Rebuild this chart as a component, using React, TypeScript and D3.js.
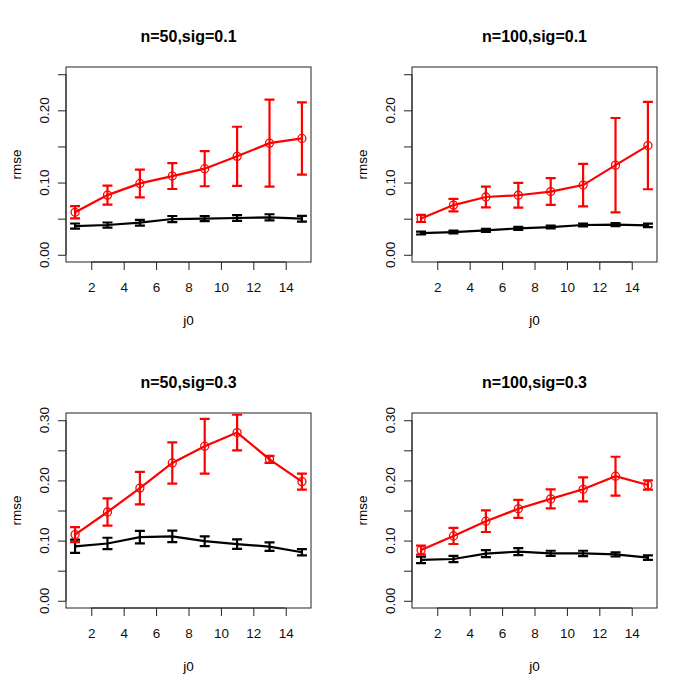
import React, { useEffect, useRef } from "react";
import * as d3 from "d3";

// x positions (j0)
const j0 = [1, 3, 5, 7, 9, 11, 13, 15];

const titles = ["n=50,sig=0.1", "n=100,sig=0.1", "n=50,sig=0.3", "n=100,sig=0.3"];
const yMax = [0.25, 0.25, 0.3, 0.3];

// red series (with circles) means and error half-widths
const redMean = [
   [0.0588, 0.0826, 0.0988, 0.109, 0.1192, 0.1363, 0.1546, 0.1611],
   [0.0503, 0.0688, 0.08, 0.0824, 0.0875, 0.0965, 0.1241, 0.1512],
   [0.11, 0.1475, 0.1872, 0.229, 0.2568, 0.2795, 0.235, 0.198],
   [0.0842, 0.1077, 0.1322, 0.1528, 0.1693, 0.1852, 0.207, 0.1924],
];
const redErr = [
   [0.0085, 0.0132, 0.0192, 0.0179, 0.0243, 0.041, 0.0602, 0.05],
   [0.0049, 0.0086, 0.0144, 0.0171, 0.0185, 0.0294, 0.0653, 0.0605],
   [0.0125, 0.0225, 0.027, 0.0343, 0.0455, 0.0296, 0.0059, 0.0134],
   [0.0073, 0.0134, 0.0179, 0.015, 0.0159, 0.02, 0.0323, 0.0078],
];

// black series means and error half-widths
const blackMean = [
   [0.0398, 0.0412, 0.0444, 0.0495, 0.05, 0.0509, 0.0519, 0.05],
   [0.0301, 0.0315, 0.0338, 0.0366, 0.0384, 0.0412, 0.0417, 0.0407],
   [0.0905, 0.0952, 0.1057, 0.107, 0.099, 0.0942, 0.09, 0.0806],
   [0.068, 0.0694, 0.0783, 0.0817, 0.0789, 0.0786, 0.077, 0.0716],
];
const blackErr = [
   [0.0035, 0.0035, 0.004, 0.0042, 0.0035, 0.004, 0.0042, 0.004],
   [0.002, 0.002, 0.002, 0.002, 0.002, 0.002, 0.002, 0.0025],
   [0.011, 0.0095, 0.0103, 0.0095, 0.0081, 0.0078, 0.007, 0.0053],
   [0.0055, 0.0053, 0.0059, 0.0059, 0.0042, 0.0045, 0.0034, 0.0037],
];

const xTicks = [2, 4, 6, 8, 10, 12, 14];

const FONT = "'Liberation Sans', Arial, Helvetica, sans-serif";
const FS = 13.5;

export default function App() {
   const ref = useRef<SVGSVGElement>(null);

   useEffect(() => {
      const svg = d3.select(ref.current);
      svg.selectAll("*").remove();

      const panelW = 346;
      const panelH = 346;
      const box = { left: 66, right: 311, top: 67, bottom: 262 };

      titles.forEach((title, i) => {
         const col = i % 2;
         const row = Math.floor(i / 2);
         const g = svg
            .append("g")
            .attr("transform", "translate(" + col * panelW + "," + row * panelH + ")");

         // R style 4% extension on both axes
         const x = d3
            .scaleLinear()
            .domain([1 - 14 * 0.04, 15 + 14 * 0.04])
            .range([box.left, box.right]);
         const ym = yMax[i];
         const y = d3
            .scaleLinear()
            .domain([-ym * 0.04, ym * 1.04])
            .range([box.bottom, box.top]);

         // box
         g.append("rect")
            .attr("x", box.left)
            .attr("y", box.top)
            .attr("width", box.right - box.left)
            .attr("height", box.bottom - box.top)
            .attr("fill", "none")
            .attr("stroke", "#222")
            .attr("stroke-width", 1);

         // x axis
         const xAxis = g
            .append("g")
            .attr("transform", "translate(0," + box.bottom + ")")
            .call(d3.axisBottom(x).tickValues(xTicks).tickSize(8).tickPadding(12).tickFormat(d3.format("d")));
         xAxis.select(".domain").attr("d", "M" + x(2) + ",0H" + x(14)).attr("stroke", "#222");
         xAxis.selectAll("line").attr("stroke", "#222");
         xAxis.selectAll("text").attr("font-family", FONT).attr("font-size", FS).attr("fill", "#111");

         // y axis
         const yTickVals = d3.range(0, ym + 1e-9, 0.05);
         const yAxis = g
            .append("g")
            .attr("transform", "translate(" + box.left + ",0)")
            .call(d3.axisLeft(y).tickValues(yTickVals).tickSize(8).tickFormat(() => ""));
         yAxis.select(".domain").attr("d", "M0," + y(0) + "V" + y(yTickVals[yTickVals.length - 1])).attr("stroke", "#222");
         yAxis.selectAll("line").attr("stroke", "#222");

         yTickVals
            .filter((_, k) => k % 2 === 0)
            .forEach((v) => {
               g.append("text")
                  .attr("transform", "translate(44," + y(v) + ") rotate(-90)")
                  .attr("text-anchor", "middle")
                  .attr("dy", "0.36em")
                  .attr("font-family", FONT)
                  .attr("font-size", FS)
                  .attr("fill", "#111")
                  .text(d3.format(".2f")(v));
            });

         // titles and axis labels
         g.append("text")
            .attr("x", (box.left + box.right) / 2)
            .attr("y", 42)
            .attr("text-anchor", "middle")
            .attr("font-family", FONT)
            .attr("font-weight", "bold")
            .attr("font-size", 16)
            .text(title);
         g.append("text")
            .attr("x", (box.left + box.right) / 2)
            .attr("y", 325)
            .attr("text-anchor", "middle")
            .attr("font-family", FONT)
            .attr("font-size", FS)
            .text("j0");
         g.append("text")
            .attr("transform", "translate(16," + (box.top + box.bottom) / 2 + ") rotate(-90)")
            .attr("text-anchor", "middle")
            .attr("dy", "0.36em")
            .attr("font-family", FONT)
            .attr("font-size", FS)
            .text("rmse");

         const line = d3
            .line<number>()
            .x((_, k) => x(j0[k]))
            .y((d) => y(d));

         const drawSeries = (means: number[], errs: number[], color: string, circles: boolean) => {
            const s = g.append("g");
            s.append("path")
               .datum(means)
               .attr("fill", "none")
               .attr("stroke", color)
               .attr("stroke-width", 2.2)
               .attr("d", line);
            means.forEach((m, k) => {
               const cx = x(j0[k]);
               const lo = y(m - errs[k]);
               const hi = y(m + errs[k]);
               s.append("path")
                  .attr("d", "M" + cx + "," + lo + "V" + hi + "M" + (cx - 5) + "," + lo + "H" + (cx + 5) + "M" + (cx - 5) + "," + hi + "H" + (cx + 5))
                  .attr("fill", "none")
                  .attr("stroke", color)
                  .attr("stroke-width", 2.2);
               if (circles) {
                  s.append("circle")
                     .attr("cx", cx)
                     .attr("cy", y(m))
                     .attr("r", 4)
                     .attr("fill", "none")
                     .attr("stroke", color)
                     .attr("stroke-width", 1.3);
               }
            });
         };

         drawSeries(blackMean[i], blackErr[i], "#000", false);
         drawSeries(redMean[i], redErr[i], "#ff0000", true);
      });
   }, []);

   return (
      <svg
         ref={ref}
         width={692}
         height={692}
         style={{ position: "absolute", left: 0, top: 0, background: "#fff" }}
      ></svg>
   );
}
